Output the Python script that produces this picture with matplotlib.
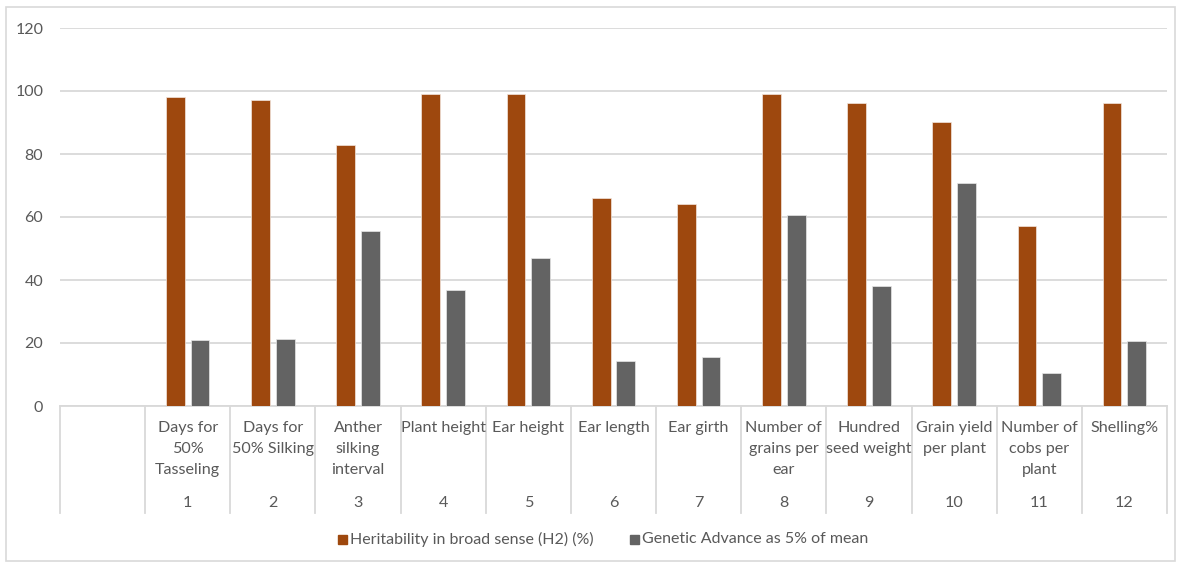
import matplotlib
matplotlib.use("Agg")
import matplotlib.pyplot as plt
from matplotlib.patches import Rectangle
from matplotlib.lines import Line2D
from matplotlib.transforms import blended_transform_factory

plt.rcParams['font.family'] = ['Lato', 'DejaVu Sans']

traits = ["Days for\n50%\nTasseling", "Days for\n50% Silking", "Anther\nsilking\ninterval",
          "Plant height", "Ear height", "Ear length", "Ear girth",
          "Number of\ngrains per\near", "Hundred\nseed weight", "Grain yield\nper plant",
          "Number of\ncobs per\nplant", "Shelling%"]
trait_numbers = ["1", "2", "3", "4", "5", "6", "7", "8", "9", "10", "11", "12"]
heritability = [98.2, 97.1, 83.0, 99.0, 99.0, 66.0, 64.0, 99.0, 96.2, 90.2, 57.1, 96.2]
genetic_advance = [20.8, 21.4, 55.4, 36.9, 47.0, 14.3, 15.7, 60.5, 38.1, 70.9, 10.5, 20.5]
y_ticks = [0, 20, 40, 60, 80, 100, 120]

ORANGE = "#9E480E"
GREY = "#636363"
TEXT = "#595959"
GRID = "#D9D9D9"

W, H = 1184, 564
fig = plt.figure(figsize=(W / 100, H / 100), dpi=100)

def fx(px):
    return px / W

def fy(py):
    return 1 - py / H

# outer chart border
fig.patches.append(Rectangle((fx(6), fy(561)), fx(1175) - fx(6), fy(7) - fy(561),
                             transform=fig.transFigure, fill=False, edgecolor=GRID, lw=1.2))

left, right, top, bottom = 60, 1167, 28, 406
ax = fig.add_axes([fx(left), fy(bottom), fx(right) - fx(left), fy(top) - fy(bottom)])

n = len(traits)
x = [i + 1 for i in range(n)]  # slot 0 is the empty leading category
bw, gap = 0.22, 0.07
off = (bw + gap) / 2
ax.bar([v - off for v in x], heritability, width=bw, color=ORANGE, edgecolor="#F2E6DE", lw=0.5,
       zorder=3, label="Heritability in broad sense (H2) (%)")
ax.bar([v + off for v in x], genetic_advance, width=bw, color=GREY, edgecolor="#E8E8E8", lw=0.5,
       zorder=3, label="Genetic Advance as 5% of mean")

ax.set_xlim(-0.5, n + 0.5)
ax.set_ylim(0, 120)
ax.set_yticks(y_ticks)
ax.yaxis.grid(True, color=GRID, lw=1.3)
ax.set_axisbelow(True)
for s in ["top", "right", "left"]:
    ax.spines[s].set_visible(False)
ax.spines["bottom"].set_color(GRID)
ax.spines["bottom"].set_linewidth(1.3)
ax.tick_params(axis="y", length=0, pad=12, labelsize=11.5, labelcolor=TEXT)
ax.set_xticks([])

# multi-level category axis below the plot
trans = blended_transform_factory(ax.transData, fig.transFigure)
for b in range(n + 2):
    ax.add_line(Line2D([b - 0.5, b - 0.5], [fy(406), fy(513)], transform=trans,
                       color=GRID, lw=1.3, clip_on=False))
for xi, lab, num in zip(x, traits, trait_numbers):
    ax.text(xi, fy(421), lab, transform=trans, ha="center", va="top", fontsize=11.6,
            color=TEXT, linespacing=1.62)
    ax.text(xi, fy(503), num, transform=trans, ha="center", va="center", fontsize=11.6,
            color=TEXT)

# legend
items = [(ORANGE, "Heritability in broad sense (H2) (%)", 338),
         (GREY, "Genetic Advance as 5% of mean", 630)]
for col, lab, px in items:
    fig.patches.append(Rectangle((fx(px), fy(544)), fx(9), 9 / H, transform=fig.transFigure,
                                 color=col))
    fig.text(fx(px + 12), fy(539), lab, ha="left", va="center", fontsize=11.5, color=TEXT)

fig.savefig("out.png", dpi=100)
